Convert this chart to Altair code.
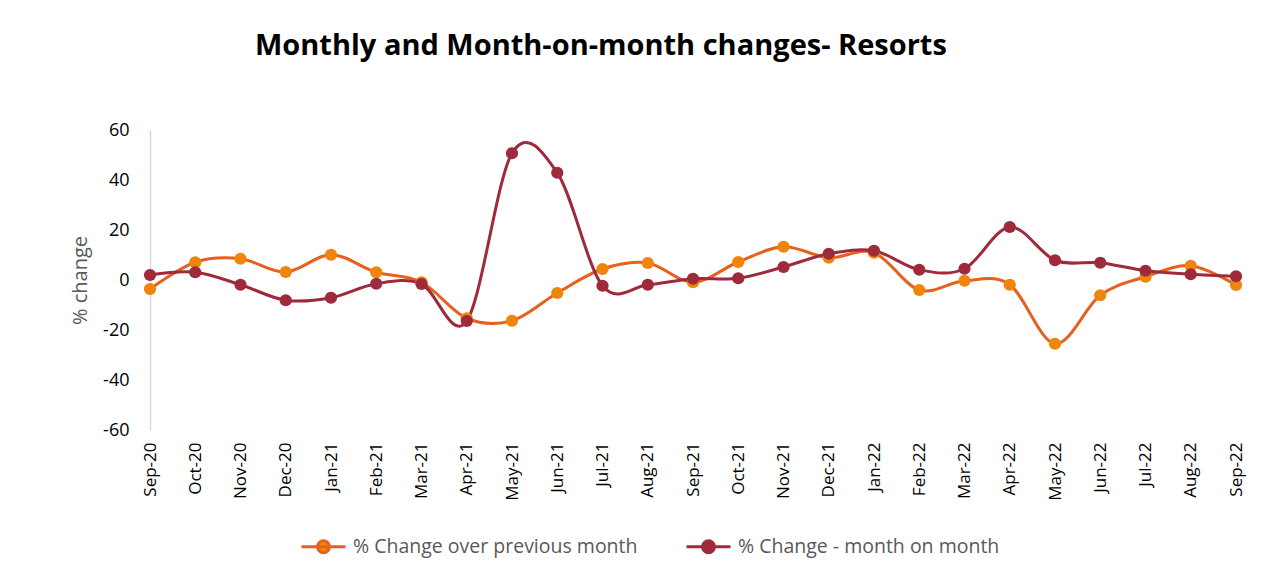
import altair as alt
import pandas as pd

months = ["Sep-20", "Oct-20", "Nov-20", "Dec-20", "Jan-21", "Feb-21", "Mar-21",
          "Apr-21", "May-21", "Jun-21", "Jul-21", "Aug-21", "Sep-21", "Oct-21",
          "Nov-21", "Dec-21", "Jan-22", "Feb-22", "Mar-22", "Apr-22", "May-22",
          "Jun-22", "Jul-22", "Aug-22", "Sep-22"]

prev_month = [-3.6, 7.1, 8.5, 3.2, 10.1, 3.1, -0.9, -15.3, -16.3, -5.2, 4.4, 6.8,
              -0.9, 7.2, 13.3, 8.9, 10.9, -4.0, -0.3, -1.9, -25.5, -6.1, 1.3, 5.7, -2.0]

mom = [2.0, 3.1, -1.9, -8.1, -7.1, -1.5, -1.6, -16.4, 50.7, 42.9, -2.3, -1.9,
       0.5, 0.7, 5.2, 10.5, 11.7, 4.1, 4.5, 21.2, 7.9, 6.9, 3.7, 2.3, 1.5]

y_ticks = [-60, -40, -20, 0, 20, 40, 60]

series_names = ["% Change over previous month", "% Change - month on month"]
line_colors = ["#E6601E", "#9E2A3B"]
point_colors = ["#F0850C", "#9E2A3B"]

df = pd.DataFrame({"Month": months, series_names[0]: prev_month, series_names[1]: mom})
long = df.melt(id_vars="Month", var_name="Series", value_name="Value")
long["order"] = long["Month"].map({m: i for i, m in enumerate(months)})

FONT = "Open Sans"

x_enc = alt.X("Month:N", sort=months, title=None,
              scale=alt.Scale(type="point", padding=0),
              axis=alt.Axis(labelAngle=-90, labelFontSize=17, labelColor="#000000",
                            labelFont=FONT, ticks=False, domain=False, grid=False,
                            labelPadding=12))
y_enc = alt.Y("Value:Q", title="% change",
              scale=alt.Scale(domain=[-60, 60], nice=False),
              axis=alt.Axis(values=y_ticks, grid=False, ticks=False,
                            labelExpr="'' + datum.value",
                            domainColor="#D9D9D9", domainWidth=1.5,
                            labelFontSize=18, labelColor="#000000", labelFont=FONT,
                            labelPadding=21, titleFontSize=20, titleFont=FONT,
                            titleFontWeight="normal", titleColor="#595959",
                            titlePadding=12))

sym_path = "M-1,0H1M0.27,0A0.27,0.27,0,1,1,-0.27,0A0.27,0.27,0,1,1,0.27,0Z"

legend = alt.Legend(title=None, orient="none", direction="horizontal",
                    legendX=150, legendY=393,
                    symbolType=sym_path, symbolSize=1936,
                    symbolStrokeWidth=3, labelFontSize=19.5, labelLimit=500,
                    labelFont=FONT, labelColor="#595959",
                    labelOffset=6, columnPadding=42)

lines = alt.Chart(long).mark_line(interpolate="cardinal", strokeWidth=3).encode(
    x=x_enc, y=y_enc,
    stroke=alt.Stroke("Series:N", sort=series_names,
                      scale=alt.Scale(domain=series_names, range=line_colors),
                      legend=legend),
    order="order:Q",
)

points = alt.Chart(long).mark_point(filled=True, size=150, opacity=1).encode(
    x=x_enc, y=y_enc,
    fill=alt.Fill("Series:N", sort=series_names,
                  scale=alt.Scale(domain=series_names, range=point_colors),
                  legend=legend),
)

chart = alt.layer(lines, points).properties(
    width=1086, height=300,
    padding={"left": 142, "top": 122, "right": 40, "bottom": 139},
    autosize=alt.AutoSizeParams(type="none"),
    background="white",
    title=alt.TitleParams("Monthly and Month-on-month changes- Resorts",
                          anchor="start", frame="group", dx=105, offset=60, fontSize=29,
                          font=FONT, fontWeight="bold", color="#000000"),
).configure_view(strokeWidth=0, stroke="transparent")

chart.save("out.html", embed_options={"renderer": "svg", "actions": False})
